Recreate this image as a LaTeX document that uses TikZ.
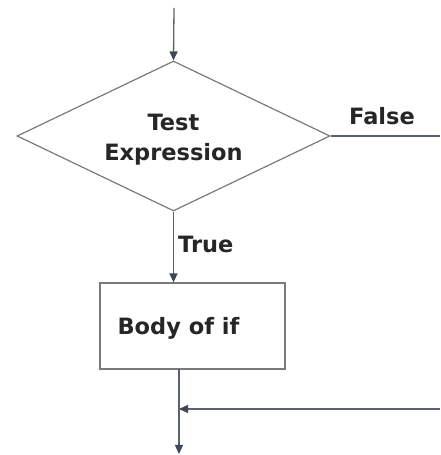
\documentclass[tikz,border=0pt]{standalone}
\usepackage{fontspec}
\setmainfont{DejaVu Sans}
\usetikzlibrary{shapes.geometric,arrows.meta}
\definecolor{edge}{HTML}{7A7A7A}
\definecolor{arr}{HTML}{5A6272}
\definecolor{tip}{HTML}{3E4756}
\definecolor{txt}{HTML}{262626}
\tikzset{
  lbl/.style={font=\fontsize{22.5}{30}\selectfont\bfseries, text=txt, inner sep=0pt},
  flow/.style={draw=arr, line width=1.3pt, -{Triangle[length=9pt,width=8pt,color=tip]}},
  plain/.style={draw=arr, line width=1.3pt},
  decision/.style={diamond, draw=edge, line width=1.2pt, minimum width=313pt, minimum height=150pt, inner sep=0pt, align=center},
  stepbox/.style={rectangle, draw=edge, line width=1.2pt, minimum width=185pt, minimum height=86pt, inner sep=0pt}
}
\begin{document}
\begin{tikzpicture}[x=1pt,y=1pt]
\useasboundingbox (0,0) rectangle (440,455);
\coordinate (start) at (174,447);
\node[decision] (test) at (173.5,319) {};
\node[lbl, align=center] (testtxt) at (173.5,315.5) {Test\\Expression};
\node[lbl, anchor=west] (false) at (349,339) {False};
\coordinate (fend) at (440,319);
\node[stepbox] (body) at (192.5,129) {};
\node[lbl] (bodytxt) at (178.5,127) {Body of if};
\node[lbl, anchor=west] (true) at (178,211) {True};
\coordinate (bout) at (179,86);
\coordinate (join) at (179,46);
\coordinate (rstart) at (440,46);
\coordinate (endp) at (179,1);
\draw[flow] (start) -- (test.north);
\draw[plain] (test.east) -- (fend);
\draw[flow] (test.south) -- (test.south |- body.north);
\draw[flow] (bout) -- (endp);
\draw[flow] (rstart) -- (join);
\end{tikzpicture}
\end{document}
